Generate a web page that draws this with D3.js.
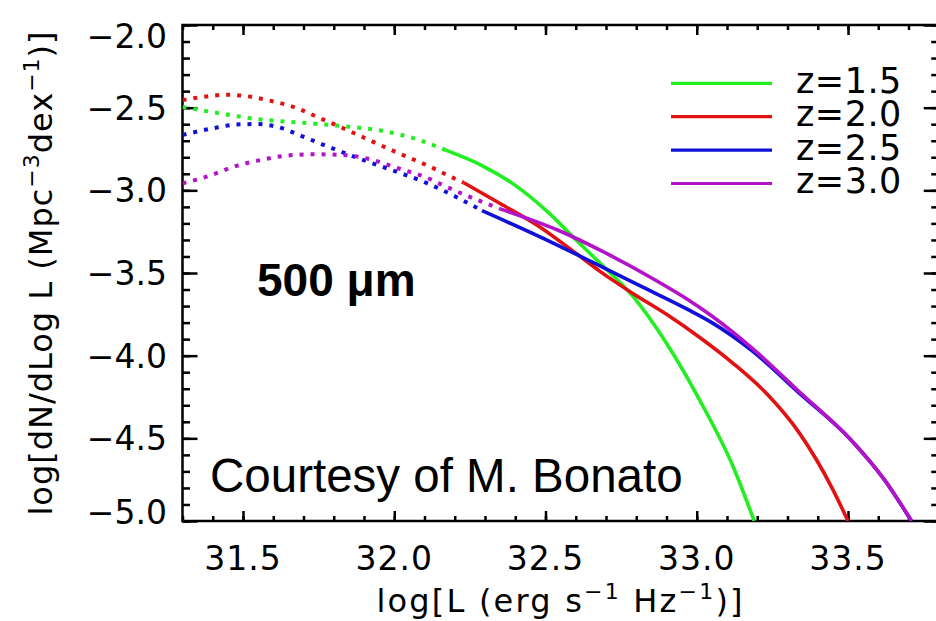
<!DOCTYPE html>
<html><head><meta charset="utf-8">
<script src="https://cdn.jsdelivr.net/npm/d3@7"></script>
<style>html,body{margin:0;padding:0;background:#fff;} svg{display:block;}</style>
</head><body>
<svg id="c" width="936" height="621"></svg>
<script>
// ---------------- data ----------------
const seriesNames = ["z=1.5", "z=2.0", "z=2.5", "z=3.0"];
const seriesColors = ["#22ee22", "#e01212", "#1010d8", "#b414c8"];

// dotted (extrapolated) parts: [logL, log dN/dlogL]
const dotted_z15 = [[31.30,-2.496],[31.41,-2.53],[31.55,-2.57],[31.69,-2.59],[31.82,-2.61],[31.96,-2.64],[32.09,-2.70],[32.17,-2.757]];
const dotted_z20 = [[31.30,-2.454],[31.37,-2.434],[31.45,-2.422],[31.51,-2.43],[31.58,-2.454],[31.68,-2.504],[31.75,-2.56],[31.82,-2.615],[31.91,-2.69],[32.01,-2.772],[32.11,-2.85],[32.195,-2.925],[32.23,-2.954]];
const dotted_z25 = [[31.30,-2.665],[31.40,-2.625],[31.48,-2.602],[31.545,-2.599],[31.61,-2.615],[31.71,-2.684],[31.81,-2.756],[31.91,-2.825],[32.01,-2.889],[32.11,-2.958],[32.21,-3.045],[32.29,-3.123]];
const dotted_z30 = [[31.30,-2.958],[31.38,-2.917],[31.47,-2.857],[31.57,-2.812],[31.655,-2.788],[31.74,-2.782],[31.83,-2.786],[31.92,-2.812],[32.01,-2.865],[32.10,-2.918],[32.18,-2.985],[32.25,-3.04],[32.35,-3.112]];

// solid parts
const solid_z15 = [[32.17,-2.757],[32.29,-2.85],[32.40,-2.97],[32.51,-3.135],[32.59,-3.28],[32.68,-3.44],[32.79,-3.643],[32.90,-3.925],[33.01,-4.27],[33.12,-4.67],[33.19,-5.0]];
const solid_z20 = [[32.23,-2.954],[32.35,-3.08],[32.48,-3.22],[32.60,-3.38],[32.68,-3.49],[32.79,-3.625],[32.90,-3.75],[33.01,-3.89],[33.12,-4.046],[33.23,-4.228],[33.34,-4.47],[33.45,-4.81],[33.50,-5.0]];
const solid_z25 = [[32.29,-3.123],[32.48,-3.28],[32.65,-3.43],[32.81,-3.575],[32.97,-3.72],[33.05,-3.80],[33.18,-3.966],[33.34,-4.228],[33.51,-4.51],[33.62,-4.75],[33.71,-5.0]];
const solid_z30 = [[32.35,-3.112],[32.54,-3.24],[32.70,-3.38],[32.87,-3.55],[32.97,-3.66],[33.05,-3.76],[33.18,-3.95],[33.34,-4.22],[33.51,-4.51],[33.62,-4.75],[33.71,-5.0]];

const xTickValues = [31.5, 32.0, 32.5, 33.0, 33.5];
const xTickLabels = ["31.5", "32.0", "32.5", "33.0", "33.5"];
const yTickValues = [-2.0, -2.5, -3.0, -3.5, -4.0, -4.5, -5.0];
const yTickLabels = ["\u22122.0", "\u22122.5", "\u22123.0", "\u22123.5", "\u22124.0", "\u22124.5", "\u22125.0"];

// ---------------- drawing ----------------
const svg = d3.select("#c");
const L = 182.5, R = 938.75, T = 25, B = 521;
const x = d3.scaleLinear().domain([31.3, 33.8]).range([L, R]);
const y = d3.scaleLinear().domain([-5.0, -2.0]).range([B, T]);

const minorX = d3.range(31.3, 33.81, 0.1).map(v => +v.toFixed(2));
const minorY = d3.range(-5.0, -1.99, 0.1).map(v => +v.toFixed(2));

svg.append("defs").append("clipPath").attr("id", "clip")
  .append("rect").attr("x", L).attr("y", T).attr("width", R - L).attr("height", B - T);

const font = "'DejaVu Sans', sans-serif";

function tickAxis(gen, transform) {
  const g = svg.append("g").attr("transform", transform).call(gen);
  g.select(".domain").remove();
  g.selectAll("line").attr("stroke", "#000").attr("stroke-width", 2.5);
  g.selectAll("text").remove();
  return g;
}
// bottom & top
tickAxis(d3.axisBottom(x).tickValues(minorX).tickSize(-5).tickFormat(""), `translate(0,${B})`);
tickAxis(d3.axisBottom(x).tickValues(xTickValues).tickSize(-10).tickFormat(""), `translate(0,${B})`);
tickAxis(d3.axisTop(x).tickValues(minorX).tickSize(-5).tickFormat(""), `translate(0,${T})`);
tickAxis(d3.axisTop(x).tickValues(xTickValues).tickSize(-10).tickFormat(""), `translate(0,${T})`);
// left & right
tickAxis(d3.axisLeft(y).tickValues(minorY).tickSize(-7.5).tickFormat(""), `translate(${L},0)`);
tickAxis(d3.axisLeft(y).tickValues(yTickValues).tickSize(-15).tickFormat(""), `translate(${L},0)`);
tickAxis(d3.axisRight(y).tickValues(minorY).tickSize(-7.5).tickFormat(""), `translate(${R},0)`);
tickAxis(d3.axisRight(y).tickValues(yTickValues).tickSize(-15).tickFormat(""), `translate(${R},0)`);

// frame
svg.append("rect").attr("x", L).attr("y", T).attr("width", R - L).attr("height", B - T)
  .attr("fill", "none").attr("stroke", "#000").attr("stroke-width", 2.5);

// tick labels
svg.append("g").selectAll("text").data(xTickValues).join("text")
  .attr("x", d => x(d)).attr("y", 570)
  .attr("text-anchor", "middle").attr("font-family", font).attr("font-size", 33)
  .attr("letter-spacing", 1)
  .text((d, i) => xTickLabels[i]);
svg.append("g").selectAll("text").data(yTickValues).join("text")
  .attr("x", 167).attr("y", d => Math.min(Math.max(y(d), 36), 512))
  .attr("dy", "0.36em")
  .attr("text-anchor", "end").attr("font-family", font).attr("font-size", 33)
  .text((d, i) => yTickLabels[i]);

// curves
const line = d3.line().x(d => x(d[0])).y(d => y(d[1])).curve(d3.curveMonotoneX);
const plot = svg.append("g").attr("clip-path", "url(#clip)");
const dottedAll = [dotted_z15, dotted_z20, dotted_z25, dotted_z30];
const solidAll = [solid_z15, solid_z20, solid_z25, solid_z30];
dottedAll.forEach((d, i) => {
  plot.append("path").attr("d", line(d)).attr("fill", "none")
    .attr("stroke", seriesColors[i]).attr("stroke-width", 4)
    .attr("stroke-dasharray", "4,7");
});
solidAll.forEach((d, i) => {
  plot.append("path").attr("d", line(d)).attr("fill", "none")
    .attr("stroke", seriesColors[i]).attr("stroke-width", 3.6)
    .attr("stroke-linejoin", "round");
});

// legend
const leg = svg.append("g");
seriesNames.forEach((name, i) => {
  const yy = 83.3 + i * 33.4;
  leg.append("line").attr("x1", 671).attr("x2", 772).attr("y1", yy).attr("y2", yy)
    .attr("stroke", seriesColors[i]).attr("stroke-width", 3.2);
  leg.append("text").attr("x", 796).attr("y", yy + 9.5)
    .attr("font-family", font).attr("font-size", 35).attr("letter-spacing", 0.5).text(name);
});

// annotations
svg.append("text").attr("x", 257).attr("y", 296)
  .attr("font-family", "'Liberation Sans', Arial, sans-serif").attr("font-weight", "bold")
  .attr("font-size", 46).text("500 \u03bcm");
svg.append("text").attr("x", 210).attr("y", 492)
  .attr("font-family", "'Liberation Sans', Arial, sans-serif")
  .attr("font-size", 47.5).text("Courtesy of M. Bonato");

// axis titles
const xt = svg.append("text").attr("x", (L + R) / 2).attr("y", 612)
  .attr("text-anchor", "middle").attr("font-family", font).attr("font-size", 32)
  .attr("letter-spacing", 2.2);
xt.append("tspan").text("log[L (erg s");
xt.append("tspan").attr("font-size", 22).attr("dy", -13).text("\u22121");
xt.append("tspan").attr("dy", 13).text(" Hz");
xt.append("tspan").attr("font-size", 22).attr("dy", -13).text("\u22121");
xt.append("tspan").attr("dy", 13).text(")]");

const yt = svg.append("text")
  .attr("transform", `translate(52,${(T + B) / 2}) rotate(-90)`)
  .attr("text-anchor", "middle").attr("font-family", font).attr("font-size", 32)
  .attr("letter-spacing", 1);
yt.append("tspan").text("log[dN/dLog L (Mpc");
yt.append("tspan").attr("font-size", 22).attr("dy", -13).text("\u22123");
yt.append("tspan").attr("dy", 13).text("dex");
yt.append("tspan").attr("font-size", 22).attr("dy", -13).text("\u22121");
yt.append("tspan").attr("dy", 13).text(")]");
</script>
</body></html>
